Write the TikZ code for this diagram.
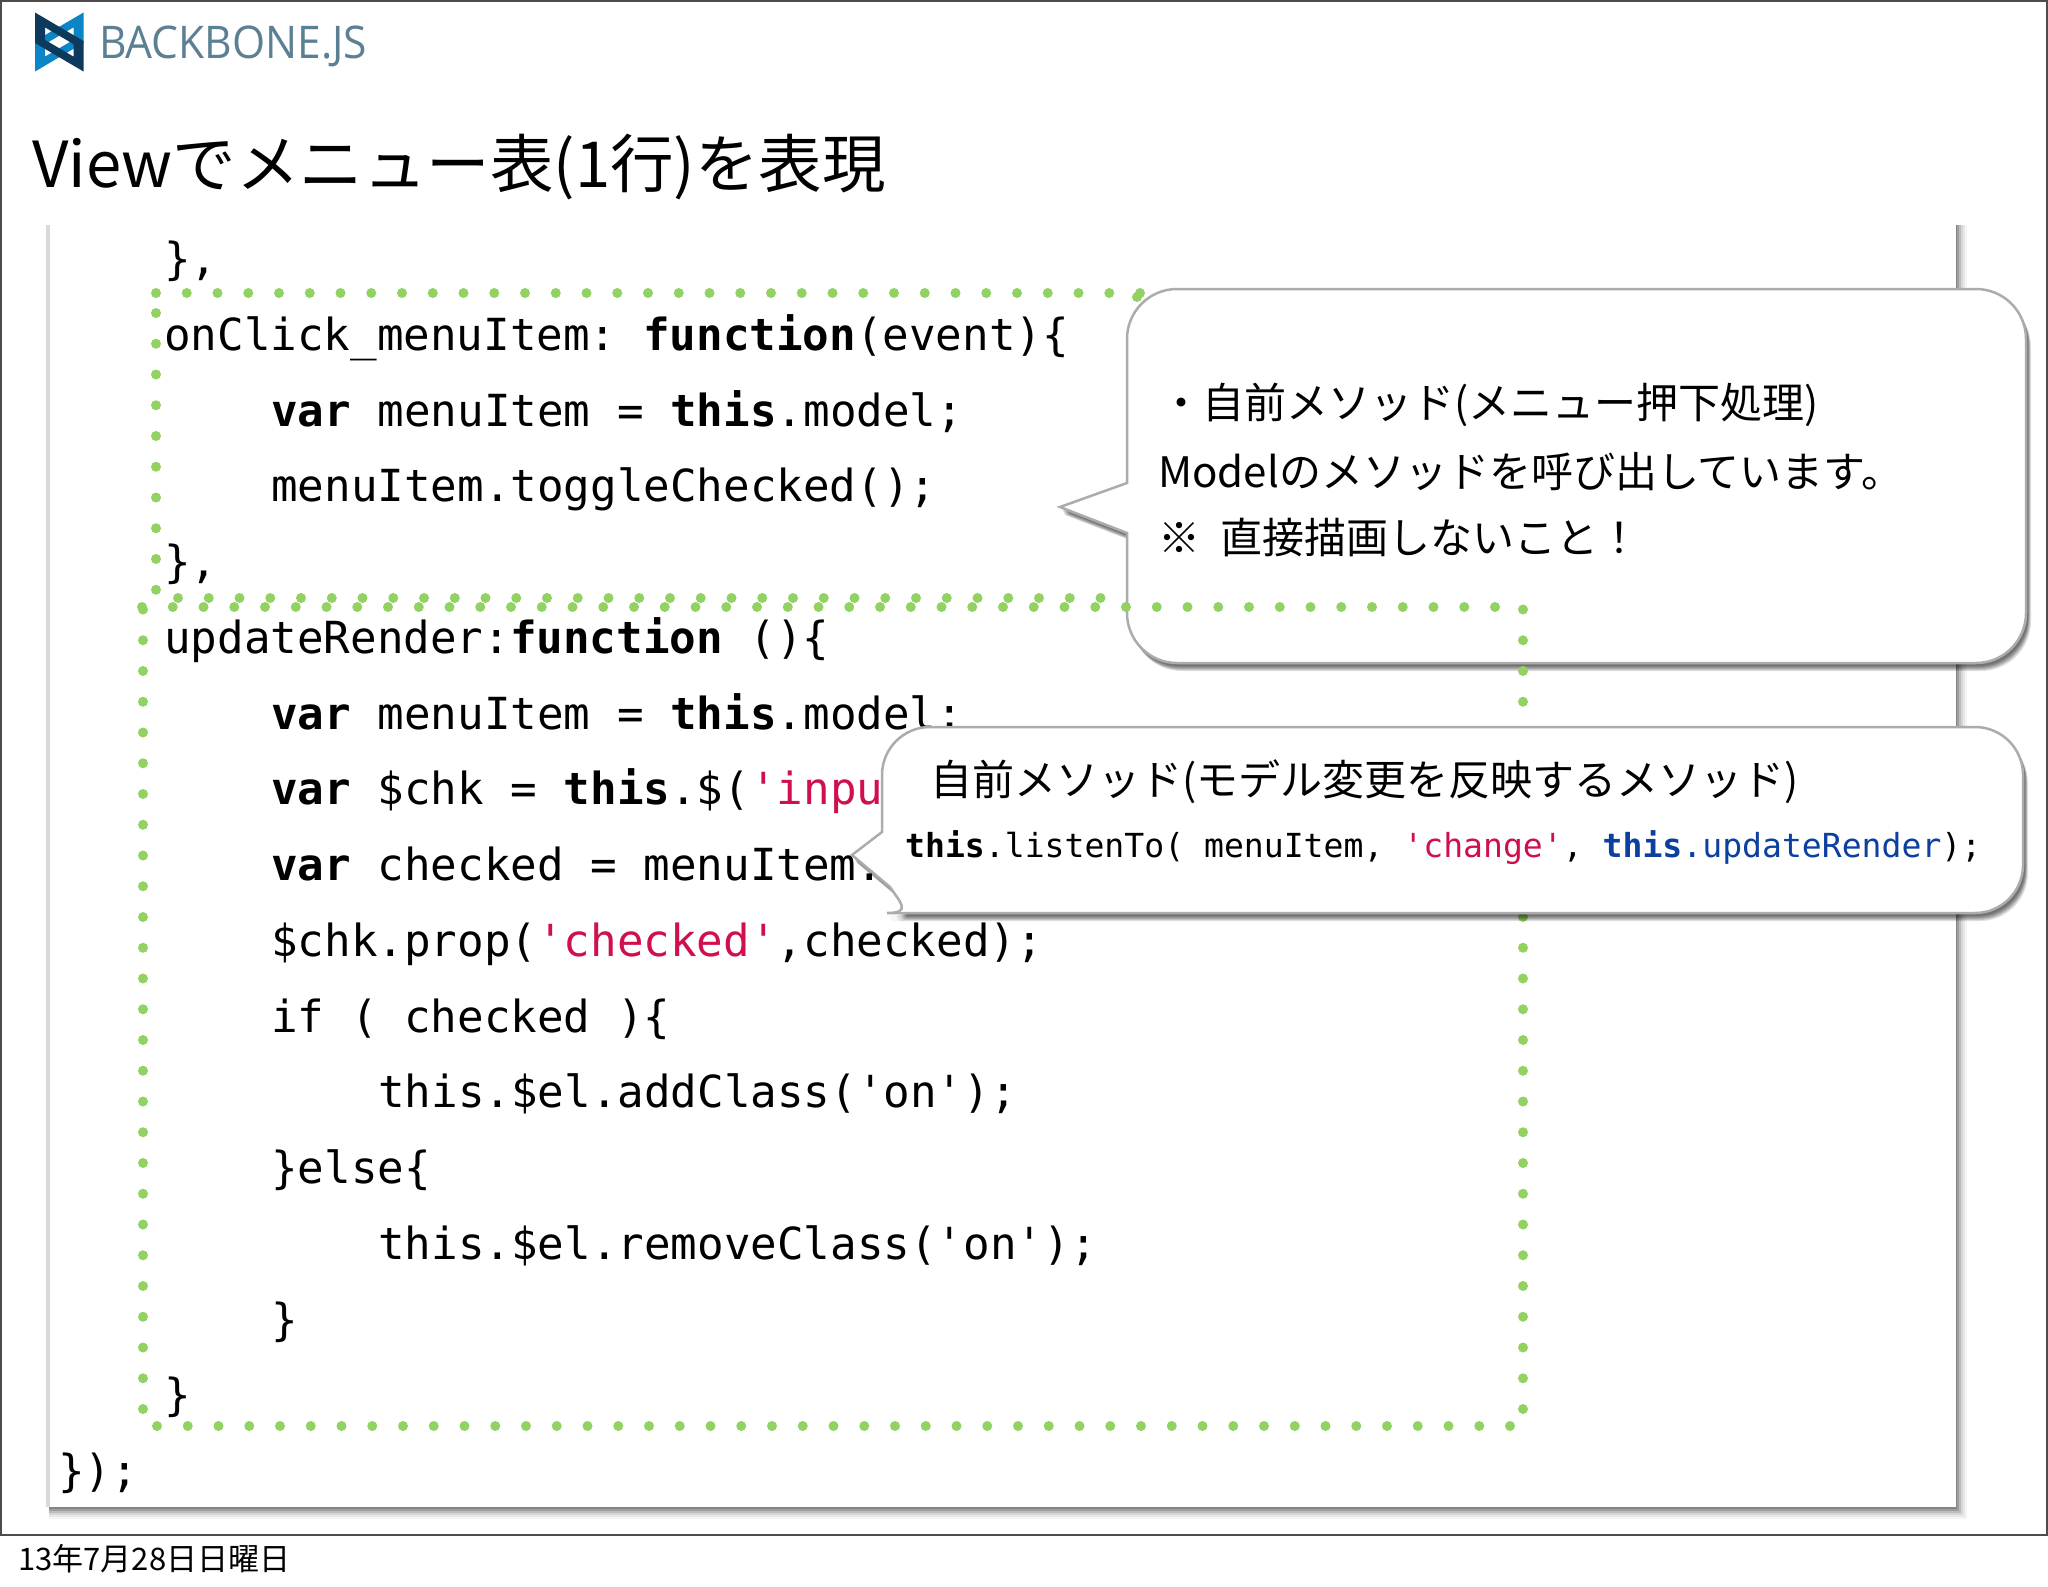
\documentclass[tikz,border=0pt]{standalone}
\usepackage{fontspec}
\usepackage{xcolor}
\usetikzlibrary{shadows}
\setmainfont{Noto Sans CJK JP}
\newfontfamily\codefont{DejaVu Sans Mono}
\newfontfamily\logofont{Open Sans}
\definecolor{dotgreen}{HTML}{92D262}
\definecolor{strred}{HTML}{D0104C}
\definecolor{kwblue}{HTML}{0B3FA0}
\definecolor{logodark}{HTML}{0D3A5C}
\definecolor{logolight}{HTML}{0A86C6}
\definecolor{logotext}{HTML}{5B7F93}
\newcommand{\kw}[1]{\textbf{#1}}
\newcommand{\str}[1]{\textcolor{strred}{#1}}
\frenchspacing
\tikzset{
  codeline/.style={anchor=base west, inner sep=0pt, font=\codefont\fontsize{44.2}{50}\selectfont},
  jptext/.style={anchor=base west, inner sep=0pt, font=\fontsize{42}{48}\selectfont},
  dotline/.style={dotgreen, line width=10pt, line cap=round, dash pattern=on 0pt off 30.75pt},
  softshadow/.style args={#1/#2}{general shadow={shadow xshift=#1pt, shadow yshift=-#2pt, fill=black, opacity=.12}},
  calloutbox/.style={fill=white, draw=gray!65, line width=2.5pt,
    softshadow=5/8, softshadow=4/7, softshadow=3.5/6, softshadow=3/5, softshadow=2.5/4, softshadow=2/3},
}

\begin{document}
\begin{tikzpicture}[x=1pt, y=-1pt]
  \useasboundingbox (0,0) rectangle (2048,1587);
  \fill[white] (0,0) rectangle (2048,1587);
  \draw[black!70, line width=2.5pt] (1,1) rectangle (2047,1535);

  % logo
  \fill[logolight, even odd rule] (83.5,12.5) -- (35,41) -- (35,71.5) -- (83.5,43) -- cycle
    (73.5,27.4) -- (45,44.1) -- (45,56.6) -- (73.5,39.9) -- cycle;
  \fill[logodark, even odd rule] (35,12.5) -- (83.5,41) -- (83.5,71.5) -- (35,43) -- cycle
    (45,27.4) -- (73.5,44.1) -- (73.5,56.6) -- (45,39.9) -- cycle;
  \node[anchor=base west, inner sep=0pt, text=logotext, font=\logofont\fontsize{45}{50}\selectfont] (logo) at (99,59) {\scalebox{.945}[1]{BACKBONE.JS}};

  \node[anchor=base west, inner sep=0pt, font=\fontsize{63.5}{70}\selectfont] (title) at (32,187) {Viewでメニュー表(1行)を表現};

  % code panel
  \foreach \dx/\dy/\shade in {11/12/4, 9/10/9, 7/8/16, 5/6/26, 3/4/38, 1/2/48}
    \fill[black!\shade] (49,225) rectangle (1956+\dx,1507+\dy);
  \fill[white] (49,225) rectangle (1956,1507);
  \fill[black!15] (46,225) rectangle (50,1507);

  % first dotted box, behind the first callout
  \draw[dotline] (156,293) -- (1140,293);
  \draw[dotline] (1137,297) -- (1137,598);
  \draw[dotline] (156,313) -- (156,592);
  \draw[dotline] (178,598) -- (1133,598);

  \node[codeline] (c1) at (164,274.5) {\},};
  \node[codeline] (c2) at (164,350.2) {onClick{\char95}menuItem: \kw{function}(event)\{};
  \node[codeline] (c3) at (271,426) {\kw{var} menuItem = \kw{this}.model;};
  \node[codeline] (c4) at (271,501.7) {menuItem.toggleChecked();};
  \node[codeline] (c5) at (164,577.5) {\},};
  \node[codeline] (c6) at (164,653.2) {updateRender:\kw{function} ()\{};
  \node[codeline] (c7) at (271,729) {\kw{var} menuItem = \kw{this}.model;};
  \node[codeline] (c8) at (271,804.7) {\kw{var} \$chk = \kw{this}.\$(\str{'inpu}};
  \node[codeline] (c9) at (271,880.5) {\kw{var} checked = menuItem.};
  \node[codeline] (c10) at (271,956.2) {\$chk.prop(\str{'checked'},checked);};
  \node[codeline] (c11) at (271,1032) {if ( checked )\{};
  \node[codeline] (c12) at (378,1107.7) {this.\$el.addClass('on');};
  \node[codeline] (c13) at (271,1183.5) {\}else\{};
  \node[codeline] (c14) at (378,1259.2) {this.\$el.removeClass('on');};
  \node[codeline] (c15) at (271,1335) {\}};
  \node[codeline] (c16) at (164,1410.7) {\}};
  \node[codeline] (c17) at (58,1486.5) {\});};

  % first callout
  \draw[calloutbox] (1060,507) -- (1127,483) [rounded corners=50pt] -- (1127,289) -- (2026,289)
    -- (2026,663) -- (1127,663) [sharp corners] -- (1127,533) -- cycle;
  \node[jptext] (note1) at (1160,418) {・自前メソッド(メニュー押下処理)};
  \node[jptext] (note2) at (1158,487) {Modelのメソッドを呼び出しています。};
  \node[jptext] (note3) at (1158,553) {※\hspace{20pt}直接描画しないこと！};

  % second dotted box, over the first callout
  \draw[dotline] (157,1426) -- (1513,1426);
  \draw[dotline] (1523,1409) -- (1523,605);
  \draw[dotline] (1495,607) -- (140,607);
  \draw[dotline] (143,1409) -- (143,605);

  % second callout
  \draw[calloutbox] (852,855) -- (882,832) [rounded corners=48pt] -- (882,727) -- (2023,727)
    -- (2023,913) -- (935,913) [sharp corners] .. controls (912,913) and (900,902) .. (890,887) -- cycle;
  \node[jptext] (note4) at (930,795) {自前メソッド(モデル変更を反映するメソッド)};
  \node[codeline, font=\codefont\fontsize{33.1}{38}\selectfont] (note5) at (905,857)
    {\kw{this}.listenTo( menuItem, \str{'change'}, \textcolor{kwblue}{\kw{this}.updateRender});};

  \node[anchor=base west, inner sep=0pt, font=\fontsize{31}{36}\selectfont] (stamp) at (18,1570) {13年7月28日日曜日};
\end{tikzpicture}
\end{document}
